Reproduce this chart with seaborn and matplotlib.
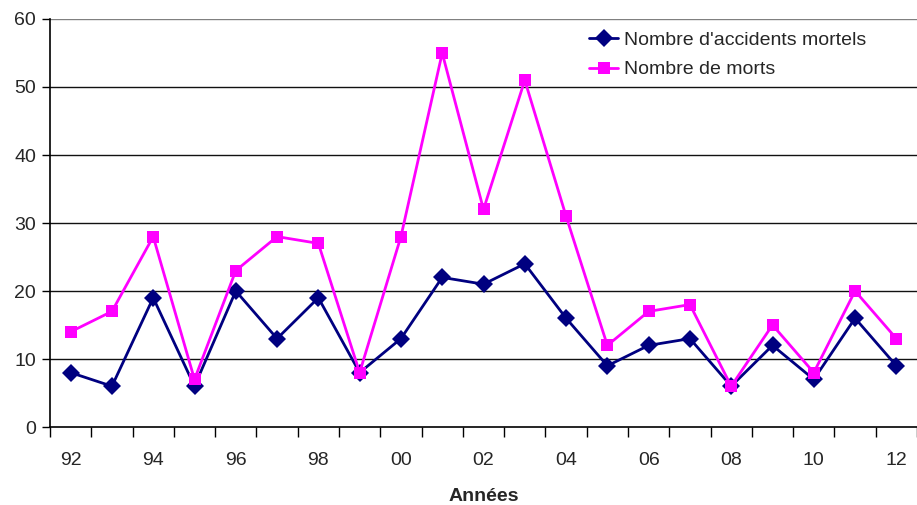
import pandas as pd
import numpy as np
import matplotlib
matplotlib.use("Agg")
import matplotlib.pyplot as plt
import seaborn as sns

# data
years = ["92", "93", "94", "95", "96", "97", "98", "99", "00", "01", "02",
         "03", "04", "05", "06", "07", "08", "09", "10", "11", "12"]
accidents = [8, 6, 19, 6, 20, 13, 19, 8, 13, 22, 21, 24, 16, 9, 12, 13, 6, 12, 7, 16, 9]
morts = [14, 17, 28, 7, 23, 28, 27, 8, 28, 55, 32, 51, 31, 12, 17, 18, 6, 15, 8, 20, 13]
series_names = ["Nombre d'accidents mortels", "Nombre de morts"]
y_ticks = [0, 10, 20, 30, 40, 50, 60]

sns.set_style("white")
plt.rcParams["font.family"] = ["Liberation Sans", "DejaVu Sans"]

pos = np.arange(len(years))
df = pd.concat([
    pd.DataFrame({"pos": pos, "value": accidents, "serie": series_names[0]}),
    pd.DataFrame({"pos": pos, "value": morts, "serie": series_names[1]}),
])

fig = plt.figure(figsize=(9.17, 5.05), dpi=100)
ax = fig.add_axes([50 / 917, 78 / 505, 1 - 50 / 917, 408 / 505])

sns.lineplot(data=df, x="pos", y="value", hue="serie", style="serie",
             markers={series_names[0]: "D", series_names[1]: "s"},
             dashes=False, palette={series_names[0]: "#000080", series_names[1]: "#FF00FF"},
             linewidth=2, markersize=9, markeredgewidth=0, ax=ax)

ax.set_xlim(-0.5, 20.24)
ax.set_ylim(0, 60)

# y axis
ax.set_yticks(y_ticks)
ax.set_yticklabels([str(v) for v in y_ticks], fontsize=14)
for v in y_ticks[1:]:
    ax.axhline(v, color="#808080" if v == 60 else "#111111", lw=1, zorder=0)
ax.tick_params(axis="y", direction="out", length=6, width=1, color="black", pad=4, left=True)

# x axis: tick marks at boundaries, labels every 2 years at centers
ax.set_xticks(np.arange(-0.5, 21, 1))
ax.set_xticklabels([])
ax.set_xticks(pos[::2], minor=True)
ax.set_xticklabels(years[::2], minor=True, fontsize=14)
ax.tick_params(axis="x", which="major", direction="out", length=7, width=1, color="black", bottom=True)
ax.tick_params(axis="x", which="minor", length=0, pad=18)

ax.set_xlabel("Années", fontsize=14, fontweight="bold", labelpad=14)
ax.set_ylabel("")

for side in ["top", "right"]:
    ax.spines[side].set_visible(False)
for side in ["left", "bottom"]:
    ax.spines[side].set_color("black")
    ax.spines[side].set_linewidth(1.2)

leg = ax.legend(loc="upper right", bbox_to_anchor=(0.962, 1.012), frameon=False,
                fontsize=14, handlelength=1.5, handletextpad=0.3, labelspacing=0.6)

fig.savefig("out.png", dpi=100)
